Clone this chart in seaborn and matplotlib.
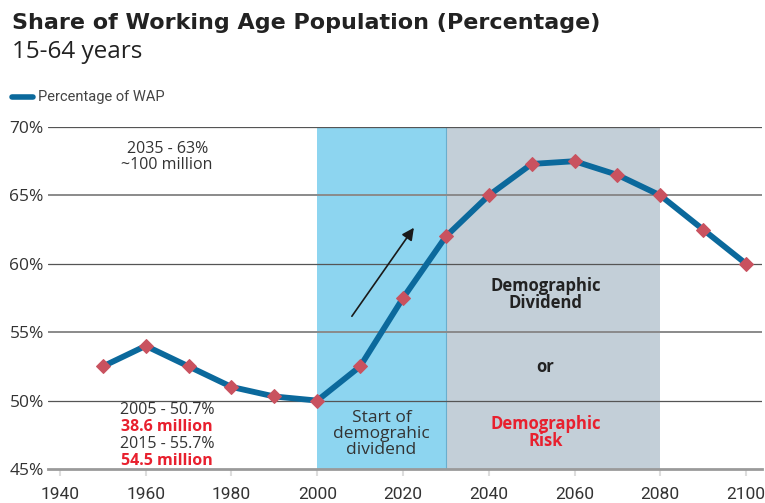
import matplotlib
matplotlib.use("Agg")
import matplotlib.pyplot as plt
import seaborn as sns
import pandas as pd

# Working-age population share (15-64), percent of total population
years = [1950, 1960, 1970, 1980, 1990, 2000, 2010, 2020, 2030, 2040, 2050, 2060, 2070, 2080, 2090, 2100]
wap_share = [52.5, 54.0, 52.5, 51.0, 50.3, 50.0, 52.5, 57.5, 62.0, 65.0, 67.3, 67.5, 66.5, 65.0, 62.5, 60.0]

x_ticks = [1940, 1960, 1980, 2000, 2020, 2040, 2060, 2080, 2100]
y_ticks = [45, 50, 55, 60, 65, 70]
y_tick_labels = ["45%", "50%", "55%", "60%", "65%", "70%"]

dividend_start = (2000, 2030)
dividend_window = (2030, 2080)

df = pd.DataFrame({"year": years, "share": wap_share})

sns.set_theme(style="white")
plt.rcParams["font.family"] = ["Open Sans", "DejaVu Sans"]

fig = plt.figure(figsize=(7.65, 5.03), dpi=100)
ax = fig.add_axes([0.0627, 0.0676, 0.9333, 0.6799])

# shaded periods
ax.axvspan(*dividend_start, color="#8dd5f0", zorder=0, lw=0)
ax.axvspan(*dividend_window, color="#c3cfd8", zorder=0, lw=0)
ax.axvline(dividend_start[1], color="#6aaecd", lw=0.8, zorder=0.5)

# horizontal gridlines
for v in [50, 60, 70]:
    ax.axhline(v, color="#555555", lw=0.9, zorder=1)
for v in [55, 65]:
    ax.axhline(v, color="#8a8a8a", lw=1.4, zorder=1)

sns.lineplot(data=df, x="year", y="share", ax=ax, color="#0b699c", lw=4.2,
             marker="D", markersize=7, markerfacecolor="#c9525f",
             markeredgecolor="#c9525f", zorder=3, label="Percentage of WAP",
             legend=False)

ax.set_xlim(1937.2, 2103.7)
ax.set_ylim(45, 70)
ax.set_xticks(x_ticks)
ax.set_xticklabels([str(t) for t in x_ticks], fontsize=12.5, color="#333333",
                   family=["Roboto", "DejaVu Sans"])
ax.set_yticks(y_ticks)
ax.set_yticklabels(y_tick_labels, fontsize=12.5, color="#333333")
ax.tick_params(axis="x", length=5, width=1.5, color="#dddddd", pad=8, bottom=True)
ax.tick_params(axis="y", length=0, pad=3)
ax.set_xlabel("")
ax.set_ylabel("")
for s in ["top", "right", "left"]:
    ax.spines[s].set_visible(False)
ax.spines["bottom"].set_color("#9a9a9a")
ax.spines["bottom"].set_linewidth(2)
ax.spines["bottom"].set_zorder(2)

# rising arrow
ax.annotate("", xy=(2022.9, 62.8), xytext=(2007.7, 56.0),
            arrowprops=dict(arrowstyle="-|>", color="#1a1a1a", lw=1.2,
                            mutation_scale=18), zorder=4)

txt = dict(ha="center", va="center", fontsize=11.5, color="#333333", linespacing=0.95)
ax.text(1965, 67.8, "2035 - 63%\n~100 million", **txt)
ax.text(1965, 49.3, "2005 - 50.7%", **txt)
ax.text(1965, 48.05, "38.6 million", ha="center", va="center", fontsize=11.5,
        color="#e8202e", fontweight="bold")
ax.text(1965, 46.85, "2015 - 55.7%", **txt)
ax.text(1965, 45.6, "54.5 million", ha="center", va="center", fontsize=11.5,
        color="#e8202e", fontweight="bold")
ax.text(2015, 47.55, "Start of\ndemograhic\ndividend", ha="center", va="center",
        fontsize=12.5, color="#333333", linespacing=0.98)
ax.text(2053.2, 57.75, "Demographic\nDividend", ha="center", va="center",
        fontsize=12, fontweight="bold", color="#222222", linespacing=0.92)
ax.text(2053.2, 52.45, "or", ha="center", va="center", fontsize=12,
        fontweight="bold", color="#222222")
ax.text(2053.2, 47.7, "Demographic\nRisk", ha="center", va="center",
        fontsize=12, fontweight="bold", color="#e8202e", linespacing=0.92)

# title block
fig.text(0.016, 0.955, "Share of Working Age Population (Percentage)",
         fontsize=16, fontweight="bold", color="#222222", va="center",
         family=["DejaVu Sans"])
fig.text(0.016, 0.897, "15-64 years", fontsize=17.5, color="#222222", va="center")

# legend
fig.add_artist(plt.Line2D([0.016, 0.043], [0.807, 0.807], color="#0b699c",
                          lw=4, solid_capstyle="round"))
fig.text(0.050, 0.807, "Percentage of WAP", fontsize=10.5, color="#444444",
         va="center", family=["Roboto", "DejaVu Sans"])

fig.savefig("out.png", dpi=100)
